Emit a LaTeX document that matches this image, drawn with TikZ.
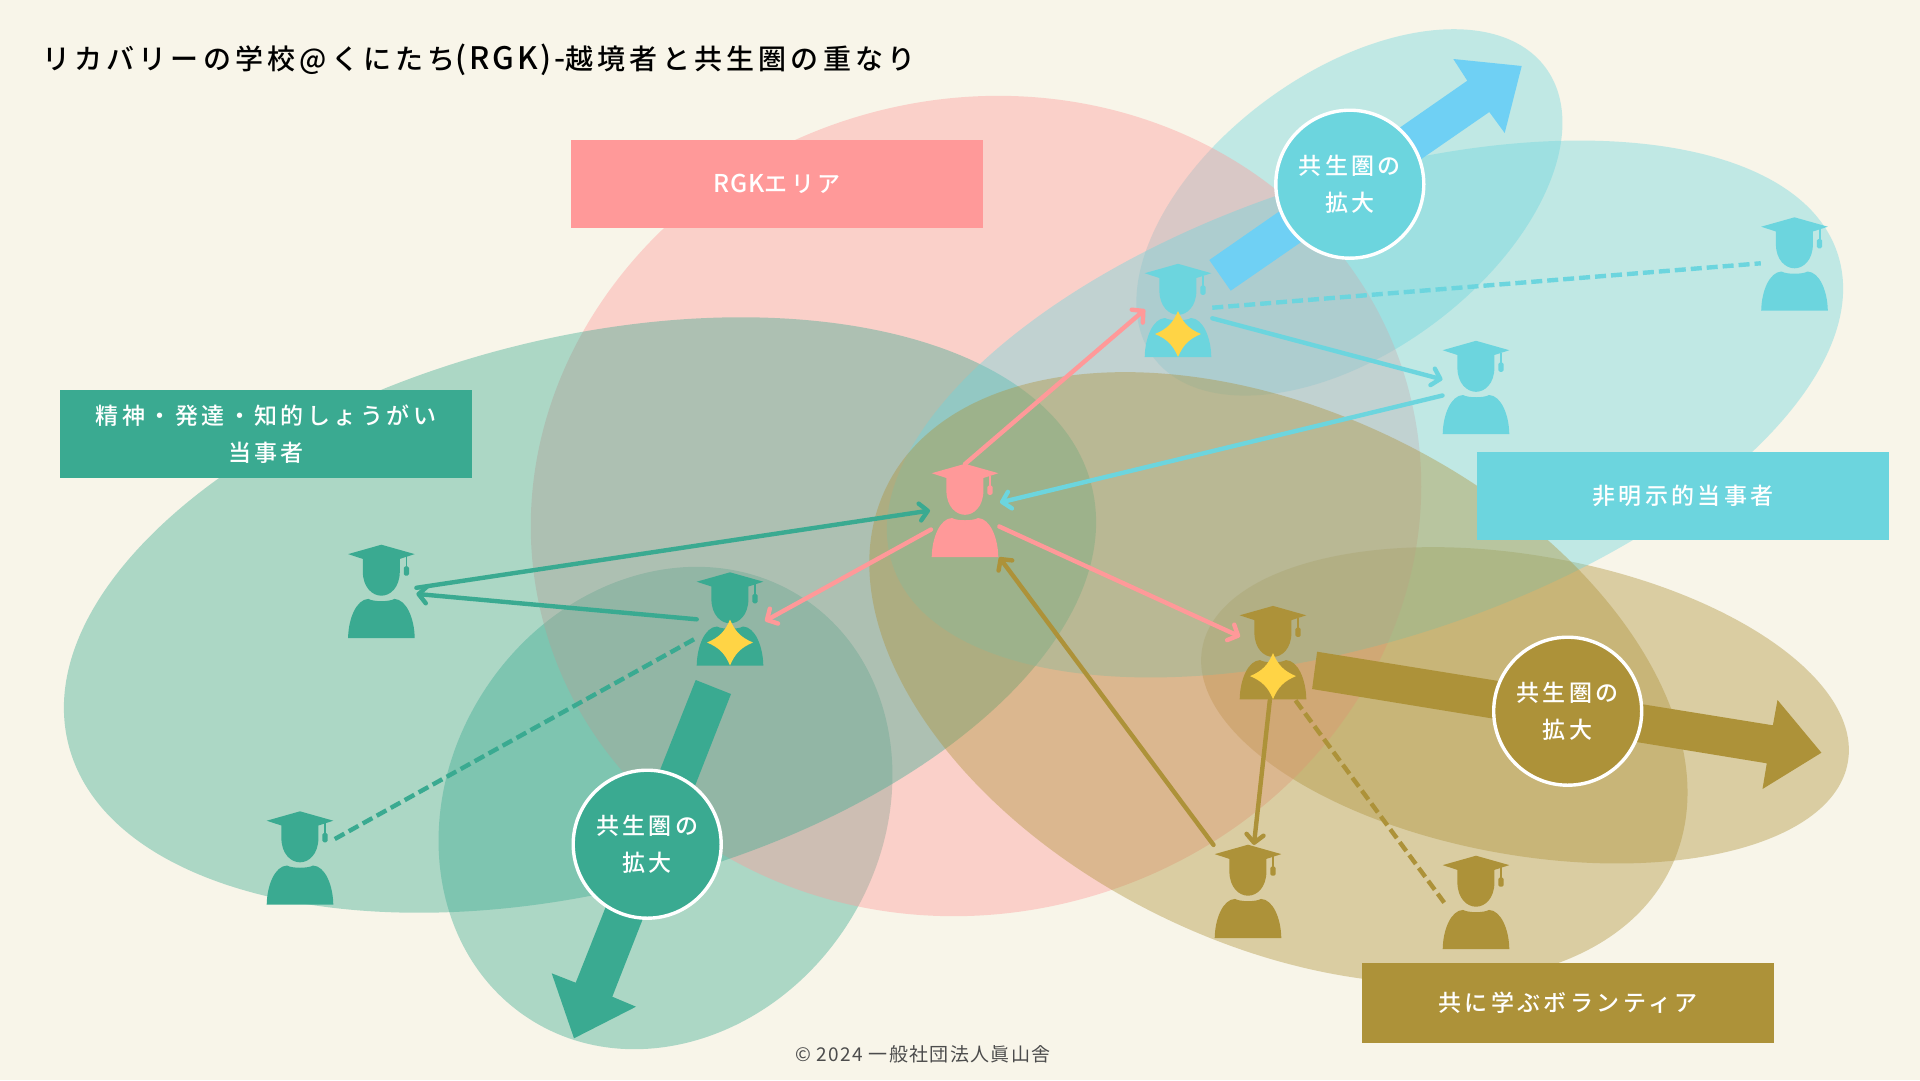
\documentclass[tikz,border=0pt]{standalone}
\usepackage{fontspec}
\usetikzlibrary{arrows.meta,calc}
\setmainfont{Noto Sans CJK JP}
\newfontfamily\labfont[LetterSpace=15]{Noto Sans CJK JP Medium}
\newfontfamily\latfont[LetterSpace=4]{Noto Sans CJK JP Medium}
\newfontfamily\ttlfont[LetterSpace=15]{Noto Sans CJK JP Medium}
\newfontfamily\ttllat[LetterSpace=9]{Noto Sans CJK JP Medium}
\newfontfamily\cpfont[LetterSpace=7]{Noto Sans CJK JP}
\definecolor{bgc}{HTML}{F8F5E9}
\definecolor{pinkc}{HTML}{FF9999}
\definecolor{tealc}{HTML}{3AAA91}
\definecolor{cyanc}{HTML}{6CD5DE}
\definecolor{goldc}{HTML}{AD9239}
\definecolor{bluec}{HTML}{6FD0F4}
\definecolor{starc}{HTML}{FFD445}
\tikzset{
  personbox/.style={minimum width=66pt,minimum height=93pt,inner sep=0pt,outer sep=0pt},
  tagbox/.style={inner sep=0pt,outer sep=0pt,align=center,text=white,font=\labfont\fontsize{23}{36.5}\selectfont},
  growcircle/.style={circle,minimum size=148pt,inner sep=0pt,draw=white,line width=3.4pt,align=center,text=white,font=\labfont\fontsize{23}{36.5}\selectfont},
  link/.style={line width=4.4pt,-{Straight Barb[length=8pt,width=17pt,round]},line cap=round},
  dashlink/.style={line width=4.4pt,dash pattern=on 11pt off 5pt},
}
\newcommand\up[1]{\raisebox{1.2pt}{#1}}
\newcommand\blob[6]{\fill[#1,fill opacity=.4,rotate around={#6:(#2,#3)}] (#2,#3) ellipse [x radius=#4 pt,y radius=#5 pt];}
\newcommand\persona[3]{%
  \node[personbox] (#1) at (#2) {};
  \begin{scope}[shift={(#2)}]
    \fill[#3,line join=round] (-33.3,-37.3) -- (0,-46.7) -- (33.3,-37.3) -- (18.4,-32.5) -- (18.4,-20)
      .. controls (18.4,-4) and (9,4.3) .. (0,4.3)
      .. controls (-9,4.3) and (-18.6,-4) .. (-18.6,-20) -- (-18.6,-32.5) -- cycle;
    \fill[#3] (-33.3,46.7) .. controls (-33,27) and (-25,8) .. (-13,7.5)
      .. controls (-8,10.5) and (8,10.5) .. (13,7.5)
      .. controls (25,8) and (33,27) .. (33.3,46.7) -- cycle;
    \fill[#3] (24.2,-35) rectangle (26,-24);
    \fill[#3,rounded corners=1.5pt] (22.4,-25) rectangle (27.6,-15.7);
  \end{scope}}
\newcommand\sparkle[1]{%
  \fill[starc,shift={($(#1.center)+(0,23.5)$)}] (0,-23) .. controls (5,-11) and (11,-5) .. (23,0)
    .. controls (11,5) and (5,11) .. (0,23) .. controls (-5,11) and (-11,5) .. (-23,0)
    .. controls (-11,-5) and (-5,-11) .. (0,-23) -- cycle;}
\begin{document}
\begin{tikzpicture}[x=1pt,y=-1pt]
\useasboundingbox (0,0) rectangle (1920,1080);
\fill[bgc] (0,0) rectangle (1920,1080);
% regions: the smaller companions lie under the pink field
\blob{tealc}{665.5}{808}{251}{216}{57}
\blob{cyanc}{1349.4}{212.4}{243.8}{139.6}{36.4}
\blob{goldc}{1525}{705.3}{327.8}{149.8}{-10}
\blob{pinkc}{976}{506}{448}{407}{15.6}
\blob{tealc}{580}{615}{527.7}{276.5}{14.2}
\blob{cyanc}{1365}{409}{497.5}{230.4}{18.2}
\blob{goldc}{1278.4}{677.8}{436}{265.8}{-25.9}
% big arrows
\fill[bluec] (1209.3,260) -- (1467.3,80.7) -- (1453.3,59) -- (1521.7,66) -- (1504.7,133) -- (1489.3,112) -- (1230.7,290.7) -- cycle;
\fill[goldc] (1317.1,651.7) -- (1772.9,725.3) -- (1777.5,700) -- (1821.4,752.7) -- (1762.5,789) -- (1766.8,763.3) -- (1312.1,689) -- cycle;
\fill[tealc] (695.7,680) -- (575.7,982.7) -- (551.7,973.3) -- (574,1038.3) -- (636,1006.7) -- (612.3,996.7) -- (731,694) -- cycle;
% tag boxes
\node[tagbox,fill=pinkc,minimum width=412pt,minimum height=88pt] (tagrgk) at (777,184) {\up{{\latfont\fontsize{24.5}{36.5}\selectfont RGK}エリア}};
\node[tagbox,fill=tealc,minimum width=412pt,minimum height=88pt] (tagteal) at (266,434) {\up{精神・発達・知的しょうがい}\\\up{当事者}};
\node[tagbox,fill=cyanc,minimum width=412pt,minimum height=88pt] (tagcyan) at (1683,496) {\up{非明示的当事者}};
\node[tagbox,fill=goldc,minimum width=412pt,minimum height=80pt] (taggold) at (1568,1003) {\up{共に学ぶボランティア}};
% people
\persona{pk}{965,510.5}{pinkc}
\persona{cs}{1178,310.5}{cyanc}
\persona{cr}{1794.5,264}{cyanc}
\persona{cm}{1476,387.5}{cyanc}
\persona{ts}{730,619}{tealc}
\persona{tl}{381.4,591.4}{tealc}
\persona{tb}{300,858}{tealc}
\persona{gs}{1273,652.6}{goldc}
\persona{gm}{1248,891.4}{goldc}
\persona{gr}{1476,902.4}{goldc}
% connectors
\draw[link,pinkc] ([shift={(0,-46.5)}]pk.center) -- ([shift={(-33,-1)}]cs.center);
\draw[link,pinkc] ([shift={(-34,19)}]pk.center) -- ([shift={(35,2)}]ts.center);
\draw[link,pinkc] ([shift={(34.3,16)}]pk.center) -- ([shift={(-33,-16)}]gs.center);
\draw[link,tealc] ([shift={(35,-3.6)}]tl.center) -- ([shift={(-35,0)}]pk.center);
\draw[link,tealc] ([shift={(-33.3,0.3)}]ts.center) -- ([shift={(35,2.5)}]tl.center);
\draw[dashlink,tealc] ([shift={(-36,20.3)}]ts.center) -- ([shift={(33,-18)}]tb.center);
\draw[link,cyanc] ([shift={(34.3,7.8)}]cs.center) -- ([shift={(-33.5,-8)}]cm.center);
\draw[dashlink,cyanc] ([shift={(34.3,-2.8)}]cs.center) -- ([shift={(-33.7,-0.7)}]cr.center);
\draw[link,cyanc] ([shift={(-33.5,8)}]cm.center) -- ([shift={(35,-8)}]pk.center);
\draw[link,goldc] ([shift={(-3.2,47.8)}]gs.center) -- ([shift={(5.9,-46.5)}]gm.center);
\draw[link,goldc] ([shift={(-34.5,-46.5)}]gm.center) -- ([shift={(34.3,46.8)}]pk.center);
\draw[dashlink,goldc] ([shift={(22.5,47.8)}]gs.center) -- ([shift={(-31,1.3)}]gr.center);
\sparkle{cs}
\sparkle{ts}
\sparkle{gs}
% circles
\node[growcircle,fill=cyanc] (gc) at (1349.8,184.2) {\up{共生圏の}\\\up{拡大}};
\node[growcircle,fill=goldc] (gg) at (1567.7,711.2) {\up{共生圏の}\\\up{拡大}};
\node[growcircle,fill=tealc] (gt) at (647.2,844.2) {\up{共生圏の}\\\up{拡大}};
% texts
\node[anchor=west,inner sep=0pt,font=\ttlfont\fontsize{28}{32}\selectfont,text=black] (ttl) at (42,60) {リカバリーの学校@くにたち{\ttllat\fontsize{31}{32}\selectfont(RGK)-}越境者と共生圏の重なり};
\node[inner sep=0pt,font=\cpfont\fontsize{19}{22}\selectfont,text=black!70] (copy) at (923,1054) {© 2024 一般社団法人眞山舎};
\end{tikzpicture}
\end{document}
